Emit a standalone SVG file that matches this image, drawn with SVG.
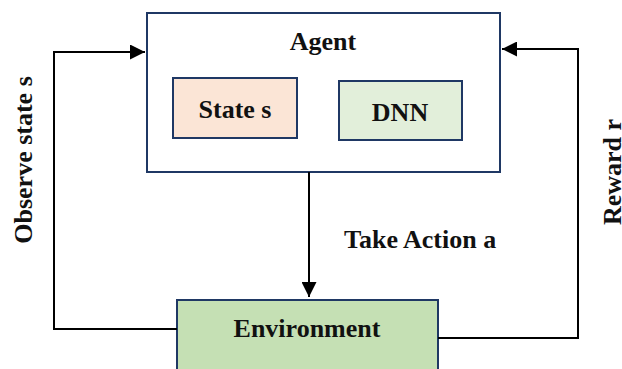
<svg xmlns="http://www.w3.org/2000/svg" width="622" height="369" viewBox="0 0 622 369">
<style>
  text { font-family: "Liberation Serif", "Times New Roman", serif; font-weight: bold; fill: #111; font-size: 26px; }
  .box { stroke: #1f3864; stroke-width: 2; }
  .conn { fill: none; stroke: #000; stroke-width: 2; }
</style>
<defs>
  <marker id="arr" viewBox="0 0 10 10" refX="10" refY="5" markerWidth="7.5" markerHeight="7.5" markerUnits="strokeWidth" orient="auto">
    <path d="M0,0 L10,5 L0,10 Z" fill="#000"/>
  </marker>
</defs>
<rect width="622" height="369" fill="#fff"/>
<g id="agent">
  <rect class="box" x="147" y="13" width="353" height="159" fill="#fff"/>
  <text x="323" y="50" text-anchor="middle">Agent</text>
</g>
<g id="state">
  <rect class="box" x="173" y="78" width="124" height="60" fill="#fbe5d6"/>
  <text x="235" y="118" text-anchor="middle">State s</text>
</g>
<g id="dnn">
  <rect class="box" x="339" y="81" width="123" height="59" fill="#e2efda"/>
  <text x="400" y="121" text-anchor="middle">DNN</text>
</g>
<g id="environment">
  <rect class="box" x="177" y="300" width="261" height="80" fill="#c5e0b4"/>
  <text x="307" y="337" text-anchor="middle">Environment</text>
</g>
<g id="connectors">
  <path class="conn" d="M309,172 L309,297" marker-end="url(#arr)"/>
  <path class="conn" d="M177,329 L54,329 L54,52 L145,52" marker-end="url(#arr)"/>
  <path class="conn" d="M438,338 L578,338 L578,49 L502,49" marker-end="url(#arr)"/>
</g>
<g id="labels">
  <text x="344" y="248">Take Action a</text>
  <text transform="translate(32,160) rotate(-90)" text-anchor="middle">Observe state s</text>
  <text transform="translate(621,172) rotate(-90)" text-anchor="middle">Reward r</text>
</g>
</svg>
